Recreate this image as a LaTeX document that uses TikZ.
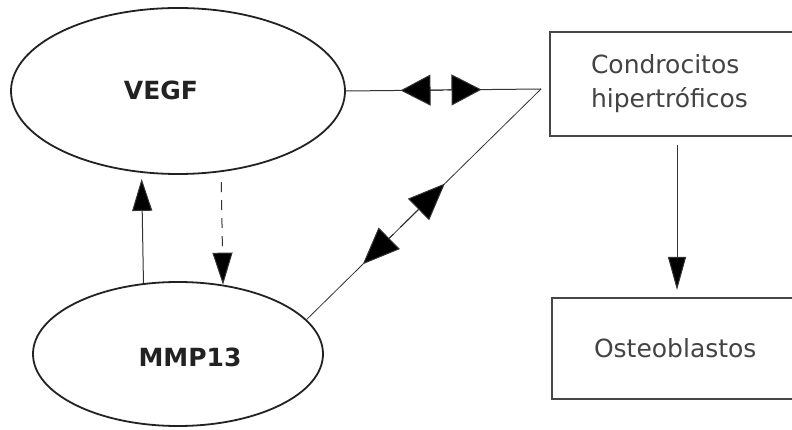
\documentclass[tikz,border=0pt]{standalone}
\usepackage{fontspec}
\setmainfont{DejaVu Sans}
\usetikzlibrary{shapes.geometric,arrows.meta,calc}
\definecolor{ink}{HTML}{222222}
\definecolor{lin}{HTML}{333333}
\begin{document}
\begin{tikzpicture}[x=1pt,y=-1pt,
  oval/.style={ellipse,draw=ink,line width=1.8pt,inner sep=0pt},
  boxnode/.style={rectangle,draw=lin!90,line width=2pt,anchor=north west,
     minimum width=260pt,text width=178pt,align=left,inner sep=0pt,
     font=\fontsize{25}{34}\selectfont,text=ink!85},
  conn/.style={draw=lin,line width=1pt},
  bighead/.style={-{Triangle[length=30pt,width=31pt,fill=black]}},
  dhead/.style={-{Triangle[length=37pt,width=30pt,fill=black]}},
  vhead/.style={-{Triangle[length=32pt,width=20pt,fill=black]}},
  lbl/.style={font=\bfseries\fontsize{25}{30}\selectfont,text=ink}]
\useasboundingbox (0,0) rectangle (792,430);
\clip (0,0) rectangle (792,430);
\fill[white] (0,0) rectangle (792,430);

\node[oval,minimum width=334pt,minimum height=166pt,
      label={[lbl,xshift=-17pt,yshift=1pt]center:VEGF}] (vegf) at (178,91) {};
\node[oval,minimum width=290pt,minimum height=144pt,
      label={[lbl,xshift=12pt,yshift=-3pt]center:MMP13}] (mmp) at (178,354) {};

\node[boxnode,minimum height=104pt] (condro) at (549,31) {Condrocitos\\hipertróficos};
\node[boxnode,minimum height=101pt,text width=176pt] (osteo) at (551,297) {Osteoblastos};

\coordinate (cj) at (541,89);
\coordinate (ax) at (677,0);

% VEGF -- condrocitos
\draw[conn] (vegf.east) -- (cj);
\draw[conn,bighead] ($(vegf.east)!0.50!(cj)$) -- ($(vegf.east)!0.28!(cj)$);
\draw[conn,bighead] ($(vegf.east)!0.52!(cj)$) -- ($(vegf.east)!0.695!(cj)$);

% MMP13 -- condrocitos
\draw[conn,line width=0.8pt] (mmp.15) -- (cj);
\draw[conn,dhead] ($(cj)!0.60!(mmp.15)$) -- ($(cj)!0.41!(mmp.15)$);
\draw[conn,dhead] ($(cj)!0.63!(mmp.15)$) -- ($(cj)!0.76!(mmp.15)$);

% MMP13 -> VEGF
\draw[conn,vhead,shorten >=6pt] (mmp.116.6) -- (vegf.246.6);
% VEGF -> MMP13 dashed
\draw[conn,vhead,dash pattern=on 10pt off 8pt,shorten <=10pt] (vegf.298.8) -- (mmp.57.5);

% condrocitos -> osteoblastos
\draw[conn,-{Triangle[length=33pt,width=18pt,fill=black]},shorten <=8pt,shorten >=7pt]
  (condro.south -| ax) -- (osteo.north -| ax);
\end{tikzpicture}
\end{document}
